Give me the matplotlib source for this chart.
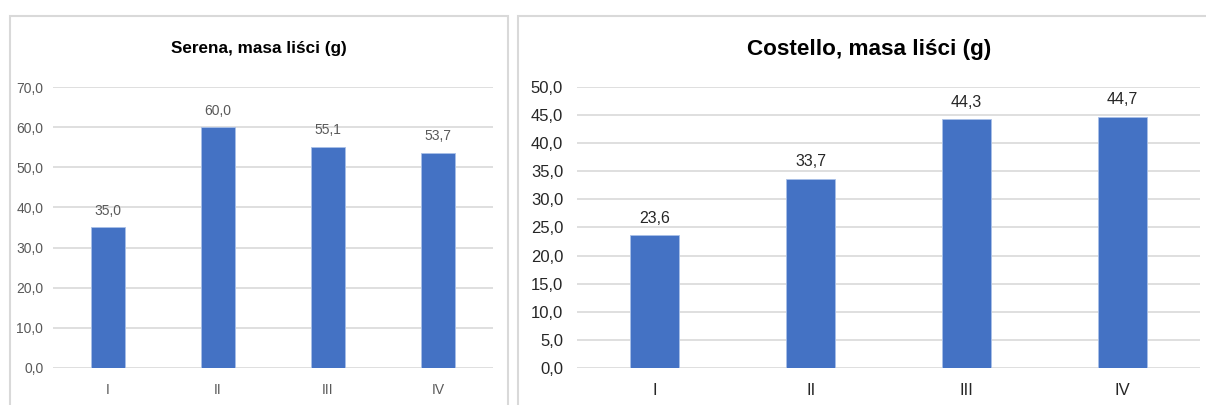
import matplotlib
matplotlib.use("Agg")
import matplotlib.pyplot as plt
from matplotlib.patches import Rectangle
from matplotlib.ticker import FuncFormatter, MultipleLocator

categories = ["I", "II", "III", "IV"]
serena_values = [35.0, 60.0, 55.1, 53.7]
costello_values = [23.6, 33.7, 44.3, 44.7]
serena_title = "Serena, masa liści (g)"
costello_title = "Costello, masa liści (g)"

W, H = 1206, 405
fig = plt.figure(figsize=(W / 100, H / 100), dpi=100)
fig.patch.set_facecolor("white")

FONT = ["Liberation Sans", "DejaVu Sans"]
BAR = "#4472C4"
GRID = "#D9D9D9"


def px_axes(x0, x1, ytop, ybot):
    return fig.add_axes([x0 / W, (H - ybot) / H, (x1 - x0) / W, (ybot - ytop) / H])


def comma(v, pos=None):
    return f"{v:.1f}".replace(".", ",")


def draw(ax, values, ymax, step, tick_color, label_color, tick_size, label_size, ypad):
    x = list(range(len(categories)))
    ax.bar(x, values, width=0.315, color=BAR, edgecolor="#A9C0E8", linewidth=0.6, zorder=3)
    ax.set_xlim(-0.5, len(categories) - 0.5)
    ax.set_ylim(0, ymax)
    ax.yaxis.set_major_locator(MultipleLocator(step))
    ax.yaxis.set_major_formatter(FuncFormatter(comma))
    ax.set_xticks(x)
    ax.set_xticklabels(categories)
    ax.grid(axis="y", color=GRID, linewidth=1.2, zorder=0)
    for s in ax.spines.values():
        s.set_visible(False)
    ax.tick_params(axis="both", length=0, colors=tick_color)
    ax.tick_params(axis="y", pad=ypad)
    ax.tick_params(axis="x", pad=11)
    for lab in ax.get_xticklabels() + ax.get_yticklabels():
        lab.set_family(FONT)
        lab.set_fontsize(tick_size)
        lab.set_color(tick_color)
    for xi, v in zip(x, values):
        ax.annotate(comma(v), (xi, v), xytext=(0, 7), textcoords="offset points",
                    ha="center", va="bottom", fontsize=label_size, color=label_color,
                    family=FONT)
    ax.set_facecolor("none")


# borders
fig.patches.append(Rectangle((10 / W, -0.1), (508 - 10) / W, (H - 16) / H + 0.1,
                             transform=fig.transFigure, fill=False, edgecolor=GRID, linewidth=1.5))
fig.patches.append(Rectangle((518 / W, -0.1), (1240 - 518) / W, (H - 16) / H + 0.1,
                             transform=fig.transFigure, fill=False, edgecolor=GRID, linewidth=1.5))

ax1 = px_axes(53, 493, 87.3, 367.7)
draw(ax1, serena_values, 70, 10, "#595959", "#595959", 10, 10, 7)
ax2 = px_axes(577, 1200, 87.3, 367.7)
draw(ax2, costello_values, 50, 5, "#262626", "#262626", 12, 11.5, 10)

fig.text(259 / W, (H - 49) / H, serena_title, ha="center", va="center",
         fontsize=12.3, fontweight="bold", family=FONT, color="black")
fig.text(869 / W, (H - 50) / H, costello_title, ha="center", va="center",
         fontsize=16.2, fontweight="bold", family=FONT, color="black")

fig.savefig("out.png", dpi=100, facecolor="white")
